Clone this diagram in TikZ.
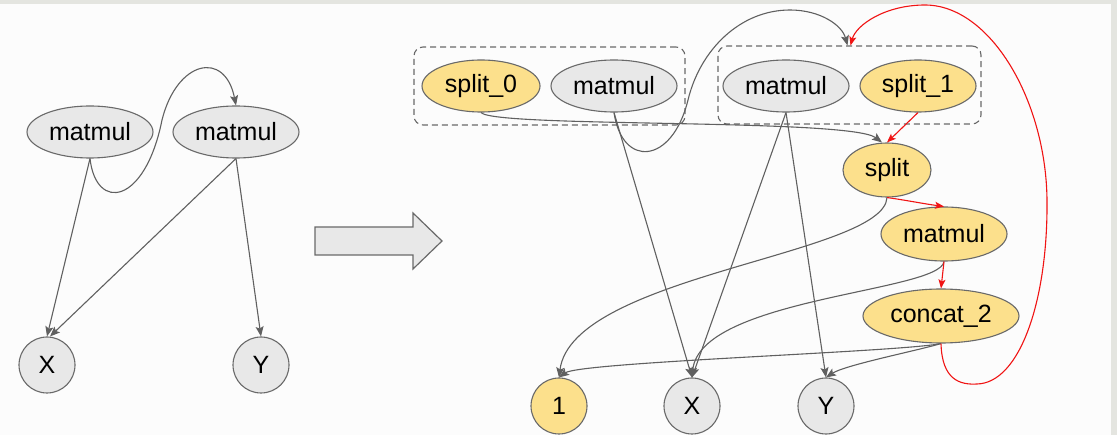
\documentclass[tikz,border=0pt]{standalone}
\usepackage{fontspec}
\setmainfont{Liberation Sans}
\usetikzlibrary{arrows.meta,shapes.geometric}
\definecolor{nodegray}{RGB}{232,232,232}
\definecolor{nodeyel}{RGB}{252,224,140}
\definecolor{linegray}{RGB}{96,96,96}
\definecolor{bordgray}{RGB}{105,105,105}
\definecolor{stripgray}{RGB}{228,229,224}
\definecolor{bgcol}{RGB}{252,252,252}
\definecolor{redline}{RGB}{240,20,20}
\begin{document}
\begin{tikzpicture}[x=1pt,y=-1pt,
  opnode/.style={ellipse, draw=bordgray, line width=1.1pt, inner sep=0pt, minimum height=52pt, font=\fontsize{25}{29}\selectfont},
  grayop/.style={opnode, fill=nodegray},
  yellowop/.style={opnode, fill=nodeyel},
  varnode/.style={circle, draw=bordgray, line width=1.1pt, inner sep=0pt, minimum size=56pt, font=\fontsize{25}{29}\selectfont},
  conn/.style={draw=linegray, line width=1.1pt, -{Stealth[length=10pt,width=8pt,inset=2pt]}},
  redconn/.style={draw=redline, line width=1.1pt, -{Stealth[length=9pt,width=7pt,inset=2pt]}},
  grpbox/.style={draw=bordgray, dash pattern=on 6pt off 4pt, rounded corners=9pt, line width=1.1pt, minimum height=78pt, inner sep=0pt}
]
\useasboundingbox (0,0) rectangle (1117,435);
\fill[bgcol] (0,0) rectangle (1117,435);
\fill[stripgray] (0,0) rectangle (1117,4);
\fill[stripgray] (1111,0) rectangle (1117,435);

% left graph
\node[grayop, minimum width=126pt] (l1) at (90,132) {matmul};
\node[grayop, minimum width=126pt] (l2) at (236,132) {matmul};
\node[varnode, fill=nodegray] (xl) at (47,365) {X};
\node[varnode, fill=nodegray] (yl) at (261,365) {Y};

\draw[conn] (l1.south) -- (xl.north);
\draw[conn] (l2.south) -- ([xshift=3pt]xl.north);
\draw[conn] (l2.south) -- (yl.north);
\draw[conn] (l1.south) .. controls (96,212) and (145,205) .. (162,120) .. controls (177,60) and (225,50) .. (l2.north);

% block arrow
\draw[fill=nodegray, draw=bordgray, line width=1.2pt] (315,227) -- (413,227) -- (413,213) -- (442,241) -- (413,269) -- (413,255) -- (315,255) -- cycle;

% right graph
\node[grpbox, minimum width=271pt] (g1) at (549.5,86) {};
\node[grpbox, minimum width=263pt] (g2) at (849.5,85) {};
\node[yellowop, minimum width=118pt] (s0) at (481,86) {split\_0};
\node[grayop, minimum width=126pt] (m1) at (614,86) {matmul};
\node[grayop, minimum width=126pt] (m2) at (786,86) {matmul};
\node[yellowop, minimum width=116pt] (s1) at (918,86) {split\_1};
\node[yellowop, minimum width=88pt, minimum height=54pt] (sp) at (887,170) {split};
\node[yellowop, minimum width=126pt, minimum height=54pt] (m3) at (944,234) {matmul};
\node[yellowop, minimum width=156pt, minimum height=54pt] (c2) at (941,316) {concat\_2};
\node[varnode, fill=nodeyel] (one) at (559,406) {1};
\node[varnode, fill=nodegray] (xr) at (692,406) {X};
\node[varnode, fill=nodegray] (yr) at (826,406) {Y};

\draw[conn] (s0.south) .. controls (495,128) and (850,118) .. ([xshift=-5pt]sp.north);
\draw[conn] (m1.south) -- (xr.north);
\draw[conn] (m1.south) .. controls (622,168) and (672,165) .. (688,100) .. controls (700,50) and (740,10) .. (790,10) .. controls (820,10) and (842,25) .. ([xshift=-2pt]g2.north);
\draw[conn] (m2.south) -- (xr.north);
\draw[conn] (m2.south) -- (yr.north);
\draw[conn] (sp.south) .. controls (884,255) and (572,275) .. (one.north);
\draw[conn] (m3.south) .. controls (940,292) and (700,298) .. (xr.north);
\draw[conn] (c2.south) .. controls (900,352) and (580,362) .. (one.north);
\draw[conn] (c2.south) .. controls (920,350) and (845,365) .. (yr.north);

\draw[redconn] (s1.south) -- (sp.north);
\draw[redconn] (sp.south) .. controls (905,200) and (925,204) .. (m3.north);
\draw[redconn] (m3.south) -- (c2.north);
\draw[redconn] (c2.south) .. controls (942,380) and (960,385) .. (977,384) .. controls (1020,383) and (1048,300) .. (1047,200) .. controls (1046,100) and (990,5) .. (925,5) .. controls (885,5) and (856,25) .. ([xshift=1pt]g2.north);
\end{tikzpicture}
\end{document}
